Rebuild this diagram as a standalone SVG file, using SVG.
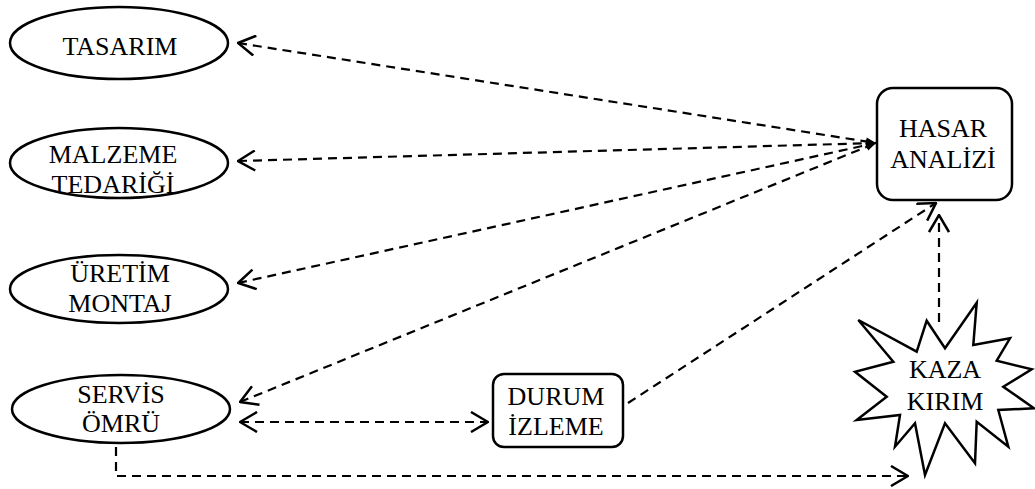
<svg xmlns="http://www.w3.org/2000/svg" width="1035" height="489" viewBox="0 0 1035 489">
<style>
.shape{fill:#fff;stroke:#000;stroke-width:2.5}
.lbl{font-family:"Liberation Serif","Times New Roman",serif;font-size:26px;fill:#000;text-anchor:middle}
.con{fill:none;stroke:#000;stroke-width:2.2;stroke-dasharray:9,6}
</style>
<defs>
<marker id="open" markerUnits="userSpaceOnUse" viewBox="-19 -11 20 22" refX="0" refY="0" markerWidth="20" markerHeight="22" orient="auto-start-reverse">
<path d="M-17,-10 L0,0 L-17,10" fill="none" stroke="#000" stroke-width="2.5"/>
</marker>
<marker id="fill" markerUnits="userSpaceOnUse" viewBox="-11 -5 12 10" refX="0" refY="0" markerWidth="12" markerHeight="10" orient="auto">
<path d="M-10,-4 L0,0 L-10,4 Z" fill="#000"/>
</marker>
<clipPath id="clipMontaj"><rect x="0" y="240" width="300" height="76"/></clipPath>
</defs>
<g id="connectors">
<line class="con" x1="238" y1="43" x2="876" y2="143" marker-start="url(#open)" marker-end="url(#fill)"/>
<line class="con" x1="238" y1="161" x2="876" y2="143" marker-start="url(#open)" marker-end="url(#fill)"/>
<line class="con" x1="238" y1="283" x2="876" y2="143" marker-start="url(#open)" marker-end="url(#fill)"/>
<line class="con" x1="240" y1="402" x2="876" y2="143" marker-start="url(#open)" marker-end="url(#fill)"/>
<line class="con" x1="240" y1="422" x2="488" y2="422" marker-start="url(#open)" marker-end="url(#open)"/>
<polyline class="con" points="116,447 116,476 908,476" marker-end="url(#open)"/>
<line class="con" x1="628" y1="403" x2="936" y2="203" marker-end="url(#open)"/>
<line class="con" x1="939" y1="322" x2="939" y2="215" marker-end="url(#open)"/>
</g>
<g id="tasarim">
<ellipse class="shape" cx="119" cy="43" rx="109" ry="36"/>
<text class="lbl" x="120" y="55">TASARIM</text>
</g>
<g id="malzeme">
<ellipse class="shape" cx="119" cy="163" rx="109" ry="35"/>
<text class="lbl" x="113" y="163">MALZEME</text>
<text class="lbl" x="113" y="193">TEDARİĞİ</text>
</g>
<g id="uretim">
<ellipse class="shape" cx="119" cy="289" rx="109" ry="34"/>
<g clip-path="url(#clipMontaj)">
<text class="lbl" x="120" y="282">ÜRETİM</text>
<text class="lbl" x="120" y="312">MONTAJ</text>
</g>
</g>
<g id="servis">
<ellipse class="shape" cx="121" cy="409" rx="109" ry="34"/>
<text class="lbl" x="121" y="403">SERVİS</text>
<text class="lbl" x="121" y="432">ÖMRÜ</text>
</g>
<g id="hasar">
<rect class="shape" x="877" y="88" width="135" height="112" rx="16"/>
<text class="lbl" x="943" y="137">HASAR</text>
<text class="lbl" x="943" y="168">ANALİZİ</text>
</g>
<g id="durum">
<rect class="shape" x="493" y="374" width="130" height="73" rx="11"/>
<text class="lbl" x="556" y="405">DURUM</text>
<text class="lbl" x="556" y="435">İZLEME</text>
</g>
<g id="kaza">
<polygon class="shape" points="926.7,320.7 945,348.3 976.7,302.7 973.3,345 1010,338.3 996.7,360.7 1031.7,369.3 1003.3,386.7 1034,408.3 998.3,410 1008.3,446.7 976.7,421.7 975,463.3 945,423.3 925,475 915,423.3 895,446.7 900,415 856.7,420 886.7,396.7 855,371.7 893.3,361.7 858.3,320 916.7,351.7"/>
<text class="lbl" x="945" y="378">KAZA</text>
<text class="lbl" x="945" y="410">KIRIM</text>
</g>
</svg>
